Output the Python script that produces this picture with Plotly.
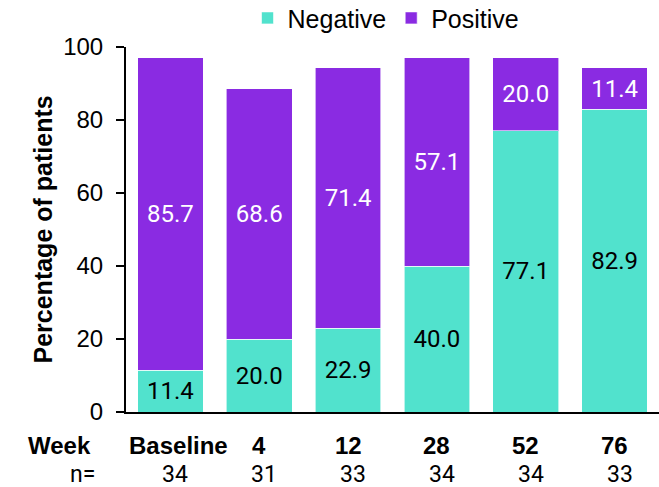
import plotly.graph_objects as go

# Visit labels, patient counts and stacked percentages
weeks = ["Baseline", "4", "12", "28", "52", "76"]
n_patients = [34, 31, 33, 34, 34, 33]
negative = [11.4, 20.0, 22.9, 40.0, 77.1, 82.9]
positive = [85.7, 68.6, 71.4, 57.1, 20.0, 11.4]

TEAL = "#51E2CD"
PURPLE = "#8A2BE2"
SANS = "Liberation Sans, Arial, sans-serif"
ROBO = "Roboto, Arial, sans-serif"

x_idx = list(range(len(weeks)))

fig = go.Figure()
fig.add_trace(go.Bar(
    x=x_idx, y=negative, name="Negative",
    marker=dict(color=TEAL, line=dict(color="rgba(255,255,255,0.6)", width=1)),
    text=[f"{v:.1f}" for v in negative], textposition="inside",
    insidetextanchor="middle", textangle=0,
    textfont=dict(family=ROBO, size=24, color="black"),
    hoverinfo="skip",
))
fig.add_trace(go.Bar(
    x=x_idx, y=positive, name="Positive",
    marker=dict(color=PURPLE, line=dict(color="rgba(255,255,255,0.6)", width=1)),
    text=[f"{v:.1f}" for v in positive], textposition="inside",
    insidetextanchor="middle", textangle=0,
    textfont=dict(family=ROBO, size=24, color="white"),
    hoverinfo="skip",
))

annotations = []
# Week row and patient-count row under each bar
for i, (w, n) in enumerate(zip(weeks, n_patients)):
    annotations.append(dict(
        x=i, y=0, xref="x", yref="paper", text=f"<b>{w}</b>",
        showarrow=False, yanchor="middle", yshift=-33, xshift=8 if i == 0 else 0,
        font=dict(family=SANS, size=24, color="black"),
    ))
    annotations.append(dict(
        x=i, y=0, xref="x", yref="paper", text=str(n),
        showarrow=False, yanchor="middle", yshift=-62, xshift=5,
        font=dict(family=ROBO, size=23, color="black"),
    ))
annotations.append(dict(
    x=0, y=0, xref="paper", yref="paper", text="<b>Week</b>",
    showarrow=False, xanchor="right", yanchor="middle", xshift=-33, yshift=-33,
    font=dict(family=SANS, size=24, color="black"),
))
annotations.append(dict(
    x=0, y=0, xref="paper", yref="paper", text="n=",
    showarrow=False, xanchor="right", yanchor="middle", xshift=-29, yshift=-62,
    font=dict(family=ROBO, size=23, color="black"),
))
annotations.append(dict(
    x=0, y=0.5, xref="paper", yref="paper", text="<b>Percentage of patients</b>",
    showarrow=False, textangle=-90, xanchor="center", yanchor="middle", xshift=-84,
    font=dict(family=SANS, size=25, color="black"),
))

fig.update_layout(
    width=659, height=487,
    margin=dict(l=126, r=0, t=47, b=75, autoexpand=False),
    paper_bgcolor="white", plot_bgcolor="white",
    barmode="stack", bargap=0.26,
    showlegend=True,
    legend=dict(
        orientation="h", x=0.228, xanchor="left", y=1.079, yanchor="middle",
        traceorder="normal", font=dict(family=SANS, size=25, color="black"),
        itemwidth=30, bgcolor="rgba(0,0,0,0)",
    ),
    annotations=annotations,
    uniformtext=dict(mode=False),
)
fig.update_xaxes(
    range=[-0.5, 5.5], showticklabels=False, ticks="",
    showline=True, linecolor="black", linewidth=2, showgrid=False, zeroline=False,
)
fig.update_yaxes(
    range=[0, 100], tickvals=[0, 20, 40, 60, 80, 100],
    ticks="outside", ticklen=8, tickwidth=2, tickcolor="black",
    ticklabelstandoff=8,
    tickfont=dict(family=SANS, size=24, color="black"),
    showline=True, linecolor="black", linewidth=2, showgrid=False, zeroline=False,
)

fig.write_html("out.html")
